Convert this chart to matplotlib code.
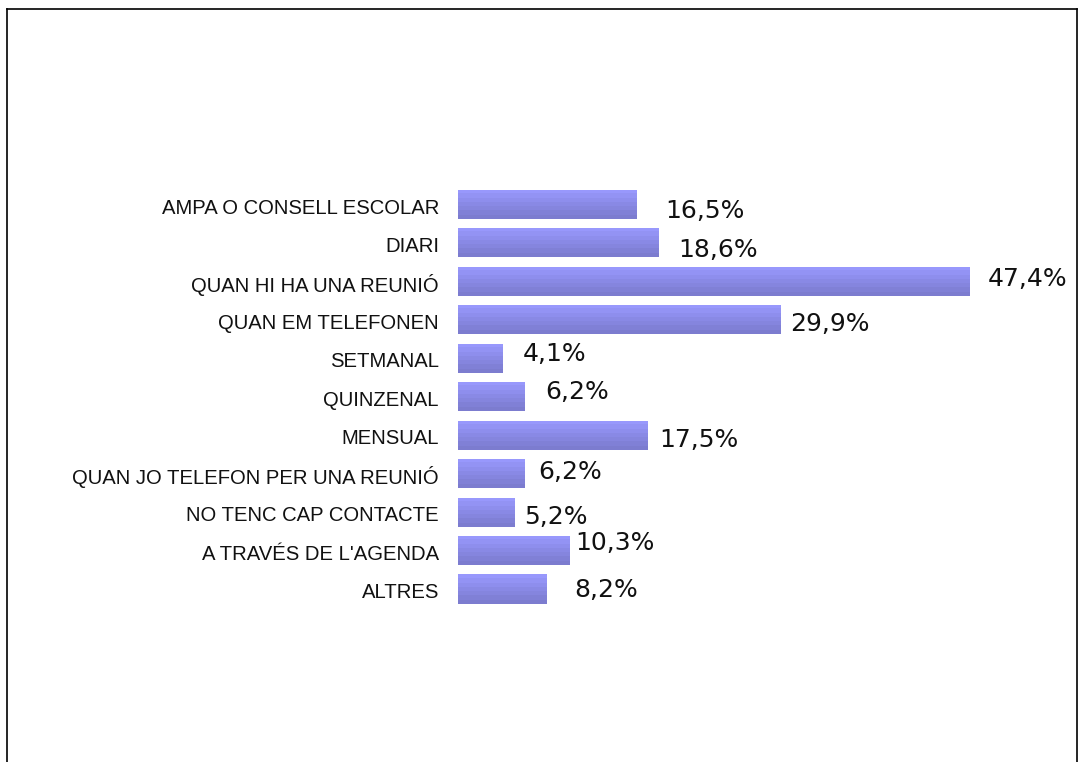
import numpy as np
import matplotlib
matplotlib.use("Agg")
import matplotlib.pyplot as plt
from matplotlib.lines import Line2D
from matplotlib.colors import LinearSegmentedColormap

categories = ["AMPA O CONSELL ESCOLAR", "DIARI", "QUAN HI HA UNA REUNIÓ",
              "QUAN EM TELEFONEN", "SETMANAL", "QUINZENAL", "MENSUAL",
              "QUAN JO TELEFON PER UNA REUNIÓ", "NO TENC CAP CONTACTE",
              "A TRAVÉS DE L'AGENDA", "ALTRES"]
values = [16.5, 18.6, 47.4, 29.9, 4.1, 6.2, 17.5, 6.2, 5.2, 10.3, 8.2]
value_labels = ["16,5%", "18,6%", "47,4%", "29,9%", "4,1%", "6,2%", "17,5%",
                "6,2%", "5,2%", "10,3%", "8,2%"]
# label offsets (pixels) from bar end / bar centre
label_dx = [29, 19, 18, 9, 20, 20, 12, 13, 10, 6, 28]
label_dy = [-6.5, -7, 2, -4, 4.5, 5, -5, 1.5, -5, 8, -1]

W, H = 1079, 762
fig = plt.figure(figsize=(W / 100, H / 100), dpi=100)
fig.patch.set_facecolor("white")

ax_left, ax_right = 458, 1077
ax_top, ax_bot = 9, 762
ax = fig.add_axes([ax_left / W, 1 - ax_bot / H, (ax_right - ax_left) / W, (ax_bot - ax_top) / H])
px_per_unit = 10.8
first_c, step = 204.5, 38.45
ax.axis("off")

cmap = LinearSegmentedColormap.from_list("g", ["#9898FC", "#7C7CCF"])
grad = np.linspace(0, 1, 7).reshape(-1, 1)
ypos = np.arange(len(categories))
bars = ax.barh(ypos, values, height=0.755, color="#8A8AE6", edgecolor="none")
for b in bars:
    x0, y0 = b.get_x(), b.get_y()
    w, h = b.get_width(), b.get_height()
    im = ax.imshow(grad, cmap=cmap, aspect="auto", interpolation="nearest",
                   extent=(x0, x0 + w, y0 + h, y0), zorder=3)
    im.set_clip_path(b)
ax.set_xlim(0, (ax_right - ax_left) / px_per_unit)
ax.set_ylim((ax_bot - first_c) / step, (ax_top - first_c) / step)

for i, (cat, v, lab) in enumerate(zip(categories, values, value_labels)):
    ax.annotate(cat, xy=(0, i), xytext=(-19, -3.5), textcoords="offset pixels",
                ha="right", va="center", fontsize=14.6, family="Liberation Sans",
                color="#111111", annotation_clip=False)
    ax.annotate(lab, xy=(v, i), xytext=(label_dx[i], label_dy[i]), textcoords="offset pixels",
                ha="left", va="center", fontsize=18, family="DejaVu Sans",
                color="#111111", annotation_clip=False)

# frame
def fx(p): return p / W
def fy(p): return 1 - p / H
fig.add_artist(Line2D([fx(7), fx(7)], [fy(9), fy(763)], color="black", lw=1.2))
fig.add_artist(Line2D([fx(7), fx(1077)], [fy(9), fy(9)], color="black", lw=1.2))
fig.add_artist(Line2D([fx(1077), fx(1077)], [fy(9), fy(763)], color="black", lw=1.2))

fig.savefig("out.png", dpi=100)
